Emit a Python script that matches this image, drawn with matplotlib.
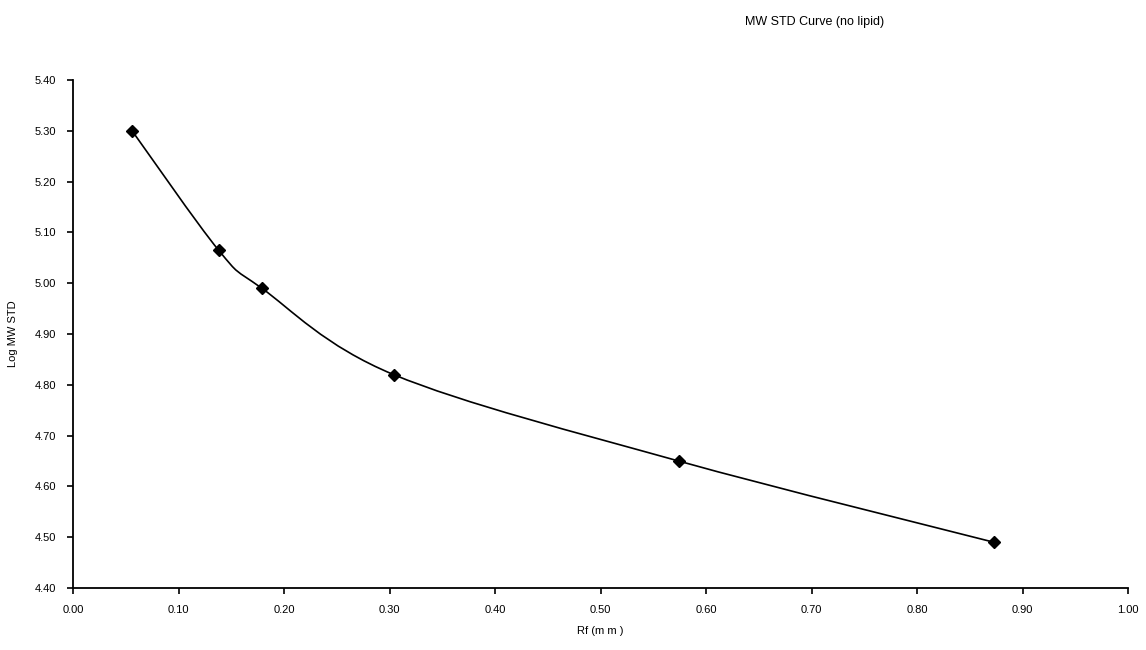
import numpy as np
import matplotlib
matplotlib.use("Agg")
import matplotlib.pyplot as plt
from matplotlib.path import Path
from matplotlib.patches import PathPatch

# Rf values and log molecular weight of the standards
rf = [0.056, 0.138, 0.179, 0.304, 0.574, 0.873]
log_mw = [5.30, 5.065, 4.99, 4.82, 4.65, 4.49]

x_ticks = [0.0, 0.1, 0.2, 0.3, 0.4, 0.5, 0.6, 0.7, 0.8, 0.9, 1.0]
y_ticks = [4.4, 4.5, 4.6, 4.7, 4.8, 4.9, 5.0, 5.1, 5.2, 5.3, 5.4]

title = "MW STD Curve (no lipid)"
x_label = "Rf (m m )"
y_label = "Log MW STD"

plt.rcParams["font.family"] = ["Liberation Sans", "DejaVu Sans"]

fig = plt.figure(figsize=(11.46, 6.5), dpi=100)
ax = fig.add_axes([73 / 1146, 1 - 588 / 650, (1128 - 73) / 1146, (588 - 80) / 650])


def smooth_path(xs, ys):
    """Cubic Bezier through the points, spreadsheet-style smoothing."""
    pts = np.column_stack([xs, ys]).astype(float)
    n = len(pts)
    verts = [pts[0]]
    codes = [Path.MOVETO]
    for i in range(n - 1):
        p0 = pts[i - 1] if i > 0 else pts[i]
        p1 = pts[i]
        p2 = pts[i + 1]
        p3 = pts[i + 2] if i + 2 < n else pts[i + 1]
        c1 = p1 + (p2 - p0) / 6.0
        c2 = p2 - (p3 - p1) / 6.0
        verts += [c1, c2, p2]
        codes += [Path.CURVE4] * 3
    return Path(verts, codes)


ax.add_patch(PathPatch(smooth_path(rf, log_mw), facecolor="none",
                       edgecolor="black", lw=1.2))
ax.plot(rf, log_mw, linestyle="none", marker="D", markersize=6,
        color="black")

ax.set_xlim(0, 1.0)
ax.set_ylim(4.4, 5.4)
ax.set_xticks(x_ticks)
ax.set_yticks(y_ticks)
ax.set_xticklabels([f"{v:.2f}" for v in x_ticks])
ax.set_yticklabels([f"{v:.2f}" for v in y_ticks])
ax.tick_params(axis="both", labelsize=8, length=4, width=1.2,
               direction="out", colors="black", pad=8)
for side in ("top", "right"):
    ax.spines[side].set_visible(False)
for side in ("left", "bottom"):
    ax.spines[side].set_linewidth(1.3)
    ax.spines[side].set_color("black")

ax.set_xlabel(x_label, fontsize=8, labelpad=8)
ax.set_ylabel(y_label, fontsize=8, labelpad=12)
fig.text(815 / 1146, 1 - 22 / 650, title, fontsize=9, ha="center",
         va="center")

fig.savefig("out.png", dpi=100, facecolor="white")
